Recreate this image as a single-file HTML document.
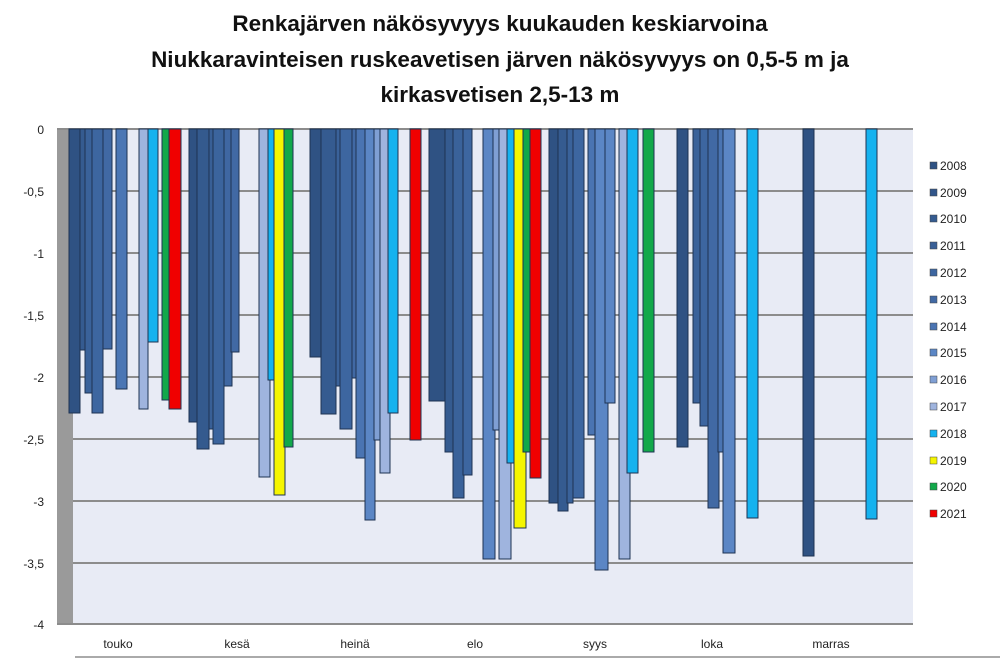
<!DOCTYPE html>
<html><head><meta charset="utf-8"><style>
body{margin:0;background:#fff;width:1000px;height:658px;overflow:hidden;font-family:"Liberation Sans",sans-serif}
</style></head><body>
<svg width="1000" height="658" xmlns="http://www.w3.org/2000/svg" font-family="Liberation Sans, sans-serif">
<g font-weight="bold" font-size="22.5" text-anchor="middle" fill="#111">
<text x="500" y="31">Renkajärven näkösyvyys kuukauden keskiarvoina</text>
<text x="500" y="67">Niukkaravinteisen ruskeavetisen järven näkösyvyys on 0,5-5 m ja</text>
<text x="500" y="102">kirkasvetisen 2,5-13 m</text>
</g>
<rect x="57" y="129" width="856" height="495" fill="#e8ebf5"/>
<rect x="57" y="129" width="16" height="495" fill="#9a9a9a"/>
<g stroke="#8c8c8c" stroke-width="2">
<line x1="57" y1="129" x2="913" y2="129"/>
<line x1="73" y1="191" x2="913" y2="191"/>
<line x1="73" y1="253" x2="913" y2="253"/>
<line x1="73" y1="315" x2="913" y2="315"/>
<line x1="73" y1="377" x2="913" y2="377"/>
<line x1="73" y1="439" x2="913" y2="439"/>
<line x1="73" y1="501" x2="913" y2="501"/>
<line x1="73" y1="563" x2="913" y2="563"/>
<line x1="57" y1="624" x2="913" y2="624"/>
</g>
<line x1="75" y1="657" x2="1000" y2="657" stroke="#aaa" stroke-width="2"/>
<g font-size="12" fill="#222" text-anchor="end">
<text x="44" y="134">0</text><text x="44" y="196">-0,5</text><text x="44" y="258">-1</text>
<text x="44" y="320">-1,5</text><text x="44" y="382">-2</text><text x="44" y="444">-2,5</text>
<text x="44" y="506">-3</text><text x="44" y="568">-3,5</text><text x="44" y="629">-4</text>
</g>
<g font-size="12" fill="#222" text-anchor="middle">
<text x="118" y="648">touko</text><text x="237" y="648">kesä</text><text x="355" y="648">heinä</text>
<text x="475" y="648">elo</text><text x="595" y="648">syys</text><text x="712" y="648">loka</text><text x="831" y="648">marras</text>
</g>
<g stroke="#1e3352" stroke-width="1">
<rect x="69" y="129" width="11" height="284" fill="#2f5283"/>
<rect x="80" y="129" width="6" height="221" fill="#355b90"/>
<rect x="85" y="129" width="8" height="264" fill="#3a629a"/>
<rect x="92" y="129" width="11" height="284" fill="#3d66a0"/>
<rect x="103" y="129" width="9" height="220" fill="#4169a4"/>
<rect x="116" y="129" width="11" height="260" fill="#4b76b4"/>
<rect x="139" y="129" width="9" height="280" fill="#9fb4de"/>
<rect x="148" y="129" width="10" height="213" fill="#15b2ef"/>
<rect x="162" y="129" width="7" height="271" fill="#12a84a"/>
<rect x="169" y="129" width="12" height="280" fill="#f00000"/>
<rect x="189" y="129" width="8" height="293" fill="#2f5283"/>
<rect x="197" y="129" width="12" height="320" fill="#345a8e"/>
<rect x="209" y="129" width="8" height="300" fill="#385f96"/>
<rect x="213" y="129" width="11" height="315" fill="#3b649d"/>
<rect x="224" y="129" width="8" height="257" fill="#3f67a2"/>
<rect x="231" y="129" width="8" height="223" fill="#4169a4"/>
<rect x="259" y="129" width="11" height="348" fill="#9fb4de"/>
<rect x="268" y="129" width="7" height="251" fill="#15b2ef"/>
<rect x="274" y="129" width="11" height="366" fill="#f5f500"/>
<rect x="284" y="129" width="9" height="318" fill="#12a84a"/>
<rect x="310" y="129" width="11" height="228" fill="#2f5283"/>
<rect x="321" y="129" width="15" height="285" fill="#355b90"/>
<rect x="336" y="129" width="5" height="257" fill="#3a629a"/>
<rect x="340" y="129" width="12" height="300" fill="#3d66a0"/>
<rect x="352" y="129" width="5" height="249" fill="#4169a4"/>
<rect x="356" y="129" width="10" height="329" fill="#4a74b2"/>
<rect x="365" y="129" width="10" height="391" fill="#5b86c5"/>
<rect x="374" y="129" width="7" height="311" fill="#7f9fd4"/>
<rect x="380" y="129" width="10" height="344" fill="#9fb4de"/>
<rect x="388" y="129" width="10" height="284" fill="#15b2ef"/>
<rect x="410" y="129" width="11" height="311" fill="#f00000"/>
<rect x="429" y="129" width="16" height="272" fill="#2f5283"/>
<rect x="445" y="129" width="9" height="323" fill="#355b90"/>
<rect x="453" y="129" width="11" height="369" fill="#3a629a"/>
<rect x="463" y="129" width="9" height="346" fill="#3d66a0"/>
<rect x="483" y="129" width="12" height="430" fill="#5b86c5"/>
<rect x="493" y="129" width="7" height="301" fill="#7f9fd4"/>
<rect x="499" y="129" width="12" height="430" fill="#9fb4de"/>
<rect x="507" y="129" width="8" height="334" fill="#15b2ef"/>
<rect x="514" y="129" width="12" height="399" fill="#f5f500"/>
<rect x="523" y="129" width="8" height="323" fill="#12a84a"/>
<rect x="530" y="129" width="11" height="349" fill="#f00000"/>
<rect x="549" y="129" width="10" height="374" fill="#2f5283"/>
<rect x="558" y="129" width="10" height="382" fill="#355b90"/>
<rect x="567" y="129" width="6" height="374" fill="#3a629a"/>
<rect x="573" y="129" width="11" height="369" fill="#3d66a0"/>
<rect x="588" y="129" width="9" height="306" fill="#4a74b2"/>
<rect x="595" y="129" width="13" height="441" fill="#5b86c5"/>
<rect x="605" y="129" width="10" height="274" fill="#5b86c5"/>
<rect x="619" y="129" width="11" height="430" fill="#9fb4de"/>
<rect x="627" y="129" width="11" height="344" fill="#15b2ef"/>
<rect x="643" y="129" width="11" height="323" fill="#12a84a"/>
<rect x="677" y="129" width="11" height="318" fill="#2f5283"/>
<rect x="693" y="129" width="8" height="274" fill="#3a629a"/>
<rect x="700" y="129" width="8" height="297" fill="#3d66a0"/>
<rect x="708" y="129" width="11" height="379" fill="#4169a4"/>
<rect x="718" y="129" width="6" height="323" fill="#4a74b2"/>
<rect x="723" y="129" width="12" height="424" fill="#5b86c5"/>
<rect x="747" y="129" width="11" height="389" fill="#15b2ef"/>
<rect x="803" y="129" width="11" height="427" fill="#2f5283"/>
<rect x="866" y="129" width="11" height="390" fill="#15b2ef"/>
</g>
<g font-size="12" fill="#222">
<g stroke="#444" stroke-width="0.5">
<rect x="930" y="162" width="7" height="7" fill="#2f5283"/>
<rect x="930" y="189" width="7" height="7" fill="#32568a"/>
<rect x="930" y="215" width="7" height="7" fill="#355b90"/>
<rect x="930" y="242" width="7" height="7" fill="#395f96"/>
<rect x="930" y="269" width="7" height="7" fill="#3d66a0"/>
<rect x="930" y="296" width="7" height="7" fill="#4169a4"/>
<rect x="930" y="323" width="7" height="7" fill="#4a74b2"/>
<rect x="930" y="349" width="7" height="7" fill="#5b86c5"/>
<rect x="930" y="376" width="7" height="7" fill="#7f9fd4"/>
<rect x="930" y="403" width="7" height="7" fill="#9fb4de"/>
<rect x="930" y="430" width="7" height="7" fill="#15b2ef"/>
<rect x="930" y="457" width="7" height="7" fill="#f5f500"/>
<rect x="930" y="483" width="7" height="7" fill="#12a84a"/>
<rect x="930" y="510" width="7" height="7" fill="#f00000"/>
</g>
<text x="940" y="170">2008</text><text x="940" y="197">2009</text><text x="940" y="223">2010</text>
<text x="940" y="250">2011</text><text x="940" y="277">2012</text><text x="940" y="304">2013</text>
<text x="940" y="331">2014</text><text x="940" y="357">2015</text><text x="940" y="384">2016</text>
<text x="940" y="411">2017</text><text x="940" y="438">2018</text><text x="940" y="465">2019</text>
<text x="940" y="491">2020</text><text x="940" y="518">2021</text>
</g>
</svg>
</body></html>
